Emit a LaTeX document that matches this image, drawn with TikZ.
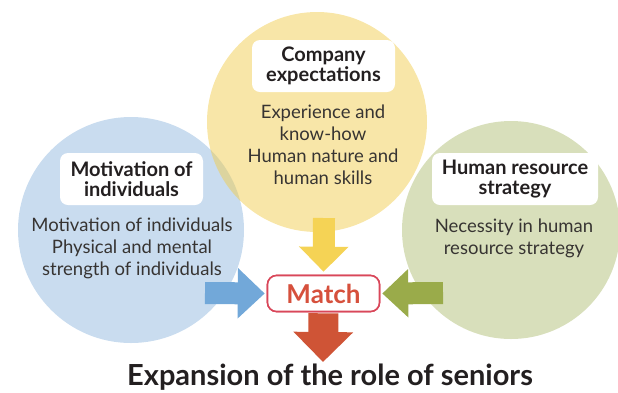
\documentclass[tikz,border=0pt]{standalone}
\usepackage{fontspec}
\setmainfont{Lato}
\usetikzlibrary{arrows.meta}
\definecolor{cblue}{RGB}{147,185,223}
\definecolor{cyellow}{RGB}{241,205,81}
\definecolor{cgreen}{RGB}{177,191,119}
\definecolor{ablue}{RGB}{114,168,217}
\definecolor{ayellow}{RGB}{245,211,85}
\definecolor{agreen}{RGB}{154,171,74}
\definecolor{ared}{RGB}{207,84,54}
\definecolor{mborder}{RGB}{217,71,90}
\definecolor{mtext}{RGB}{214,80,60}
\definecolor{txt}{RGB}{55,52,50}
\definecolor{dark}{RGB}{35,31,32}
\tikzset{
  bubble/.style={circle, inner sep=0pt, fill opacity=0.5, text opacity=1},
  headbox/.style={rounded corners=8pt, fill=white, align=center, minimum height=52pt,
    text=dark, font=\fontsize{20}{20}\selectfont\bfseries, inner sep=2pt},
  bodytext/.style={align=center, text=txt, font=\fontsize{18.5}{22}\selectfont},
  matchbox/.style={draw=mborder, line width=1.6pt, rounded corners=9pt, fill=white, minimum width=112pt,
    minimum height=36pt, text=mtext, font=\fontsize{26}{26}\selectfont\bfseries, inner sep=0pt},
}
\begin{document}
\begin{tikzpicture}[x=1pt,y=-1pt]
\useasboundingbox (0,0) rectangle (618,392);
% circles
\node[bubble, fill=cblue, minimum size=226pt] (cb) at (131,230) {};
\node[bubble, fill=cyellow, minimum size=220pt] (cy) at (317,122) {};
\node[bubble, fill=cgreen, minimum size=218pt] (cg) at (511,230) {};
% heading boxes
\node[headbox, minimum width=143pt] (hb) at (131.5,179) {Motivation of\\individuals};
\node[headbox, minimum width=143pt] (hy) at (323.5,66) {Company\\expectations};
\node[headbox, minimum width=166pt] (hg) at (515,179) {Human resource\\strategy};
% body texts
\node[bodytext] (tb) at (132,248) {Motivation of individuals\\Physical and mental\\strength of individuals};
\node[bodytext] (ty) at (323,145) {Experience and\\know-how\\Human nature and\\human skills};
\node[bodytext] (tg) at (514,238) {Necessity in human\\resource strategy};
% match
\node[matchbox] (match) at (323.5,293.5) {Match};
% arrow start points
\coordinate (sb) at (205,293);
\coordinate (sy) at (324,218);
\coordinate (sg) at (443,293);
\coordinate (re) at (323,362);
% arrows
\draw[ablue, line width=22pt, -{Triangle[length=27pt,width=49pt]}, shorten >=2pt] (sb) -- (match.west);
\draw[ayellow, line width=22pt, -{Triangle[length=25pt,width=48pt]}, shorten >=3pt] (sy) -- (match.north);
\draw[agreen, line width=22pt, -{Triangle[length=26pt,width=47pt]}, shorten >=2pt] (sg) -- (match.east);
\draw[ared, line width=30pt, -{Triangle[length=30pt,width=58pt]}, shorten <=1pt] (match.south) -- (re);
\node[matchbox] at (match) {Match};
% title
\node[text=dark, font=\fontsize{29}{29}\selectfont\bfseries] (title) at (330,377) {Expansion of the role of seniors};
\end{tikzpicture}
\end{document}
